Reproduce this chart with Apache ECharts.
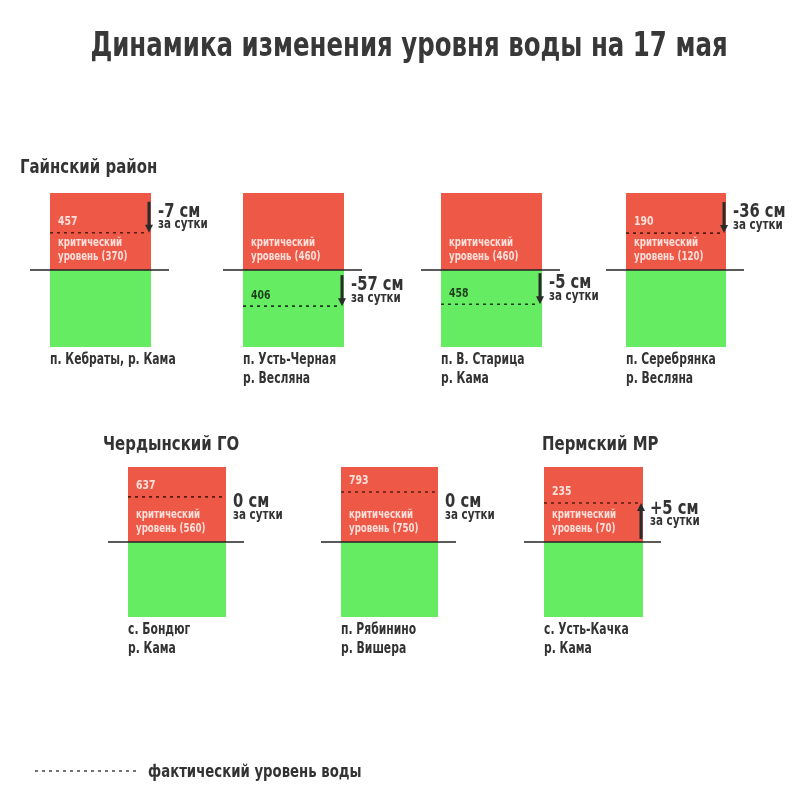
<!DOCTYPE html>
<html>
<head>
<meta charset="utf-8">
<script src="https://cdn.jsdelivr.net/npm/echarts@6/dist/echarts.min.js"></script>
<style>html,body{margin:0;padding:0;background:#fff;}#chart{width:800px;height:800px;}</style>
</head>
<body>
<div id="chart"></div>
<script>
// ---- data ----
const stations = ['п. Кебраты, р. Кама', 'п. Усть-Черная\nр. Весляна', 'п. В. Старица\nр. Кама', 'п. Серебрянка\nр. Весляна', 'с. Бондюг\nр. Кама', 'п. Рябинино\nр. Вишера', 'с. Усть-Качка\nр. Кама'];
const actualLevel = [457, 406, 458, 190, 637, 793, 235];
const criticalLevel = [370, 460, 460, 120, 560, 750, 70];
const dailyChange = [-7, -57, -5, -36, 0, 0, 5];
const districts = ['Гайнский район', 'Чердынский ГО', 'Пермский МР'];
const titleText = 'Динамика изменения уровня воды на 17 мая';
const legendText = 'фактический уровень воды';

// ---- layout / scale config ----
const panels = [
  {left: 50, top: 193, width: 101, height: 154, halfSpan: 180},
  {left: 243, top: 193, width: 101, height: 154, halfSpan: 115},
  {left: 441, top: 193, width: 101, height: 154, halfSpan: 4.5},
  {left: 626, top: 193, width: 100, height: 154, halfSpan: 146},
  {left: 128, top: 467, width: 98, height: 150, halfSpan: 128},
  {left: 341, top: 467, width: 97, height: 150, halfSpan: 64.5},
  {left: 544, top: 467, width: 99, height: 150, halfSpan: 317}
];
const districtPos = [[20, 168], [103, 445], [542, 445]];

const FONT = "'Liberation Sans Narrow', 'DejaVu Sans Condensed', 'Roboto Condensed', sans-serif";
const RED = '#EE5847';
const GREEN = '#66EC62';
const DARK = '#333333';

// condensed text: font scaled horizontally
function ctext(x, y, text, size, fill, sx, opts) {
  opts = opts || {};
  return {
    type: 'text', x: x, y: y, scaleX: sx, scaleY: 1,
    style: {x: 0, y: 0, text: text, fill: fill, font: 'bold ' + size + 'px ' + FONT,
      align: opts.align || 'left', verticalAlign: opts.va || 'middle', lineHeight: opts.lh}
  };
}

const grids = [], xAxes = [], yAxes = [], series = [];
panels.forEach(function (p, i) {
  grids.push({left: p.left, top: p.top, width: p.width, height: p.height});
  xAxes.push({type: 'value', gridIndex: i, min: 0, max: 1, show: false});
  yAxes.push({type: 'value', gridIndex: i, min: criticalLevel[i] - p.halfSpan, max: criticalLevel[i] + p.halfSpan, show: false});
  series.push({
    type: 'custom',
    xAxisIndex: i,
    yAxisIndex: i,
    clip: false,
    silent: true,
    data: [[0.5, actualLevel[i], criticalLevel[i], dailyChange[i]]],
    encode: {x: 0, y: [1, 2]},
    renderItem: function (params, api) {
      const cs = params.coordSys;
      const act = api.value(1), crit = api.value(2), chg = api.value(3);
      const yc = api.coord([0, crit])[1];
      const ya = api.coord([0, act])[1];
      const x0 = cs.x, x1 = cs.x + cs.width;
      const inRed = ya < yc;
      const children = [
        {type: 'rect', shape: {x: x0, y: cs.y, width: cs.width, height: yc - cs.y}, style: {fill: RED}},
        {type: 'rect', shape: {x: x0, y: yc, width: cs.width, height: cs.y + cs.height - yc}, style: {fill: GREEN}},
        {type: 'line', shape: {x1: x0 - 20, y1: yc, x2: x1 + 18, y2: yc}, style: {stroke: '#222', lineWidth: 1.5}},
        {type: 'line', shape: {x1: x0, y1: ya, x2: x1 - 3, y2: ya}, style: {stroke: inRed ? '#5a1a12' : '#1b3d1b', lineWidth: 1.6, lineDash: [3, 4]}},
        ctext(x0 + 8, ya - 11, String(act), 13, inRed ? '#ffe0da' : '#1e3f1e', 0.8),
        ctext(x0 + 8, yc - 6, 'критический\nуровень (' + crit + ')', 12, '#ffe0da', 0.8, {va: 'bottom', lh: 14}),
        ctext(x0, cs.y + cs.height + 4, stations[params.seriesIndex], 15, DARK, 0.8, {va: 'top', lh: 19})
      ];
      const ax = x1 - 2;
      let bigY, smallY;
      if (chg < 0) {
        children.push({type: 'line', shape: {x1: ax, y1: ya - 31, x2: ax, y2: ya - 6}, style: {stroke: '#2b2b2b', lineWidth: 3}});
        children.push({type: 'polygon', shape: {points: [[ax - 4, ya - 8], [ax + 4, ya - 8], [ax, ya]]}, style: {fill: '#2b2b2b'}});
        bigY = ya - 21; smallY = ya - 8;
      } else if (chg > 0) {
        children.push({type: 'line', shape: {x1: ax, y1: ya + 36, x2: ax, y2: ya + 6}, style: {stroke: '#2b2b2b', lineWidth: 3}});
        children.push({type: 'polygon', shape: {points: [[ax - 4, ya + 8], [ax + 4, ya + 8], [ax, ya]]}, style: {fill: '#2b2b2b'}});
        bigY = ya + 6; smallY = ya + 18;
      } else {
        bigY = yc - 40; smallY = yc - 27;
      }
      const tx = x1 + 7;
      children.push(ctext(tx, bigY, (chg > 0 ? '+' : '') + chg + ' см', 20, DARK, 0.82));
      children.push(ctext(tx, smallY, 'за сутки', 14, DARK, 0.82));
      return {type: 'group', children: children};
    }
  });
});

const graphics = [ctext(409, 47, titleText, 34, '#383838', 0.8, {align: 'center'})];
districts.forEach(function (d, i) {
  graphics.push(ctext(districtPos[i][0], districtPos[i][1], d, 20, DARK, 0.83));
});
graphics.push({type: 'line', shape: {x1: 35, y1: 771, x2: 138, y2: 771}, style: {stroke: '#444', lineWidth: 1.5, lineDash: [3, 4]}});
graphics.push(ctext(148, 772, legendText, 18, DARK, 0.82));

const chart = echarts.init(document.getElementById('chart'), null, {renderer: 'canvas'});
chart.setOption({
  backgroundColor: '#ffffff',
  animation: false,
  grid: grids,
  xAxis: xAxes,
  yAxis: yAxes,
  series: series,
  graphic: graphics
});
</script>
</body>
</html>
